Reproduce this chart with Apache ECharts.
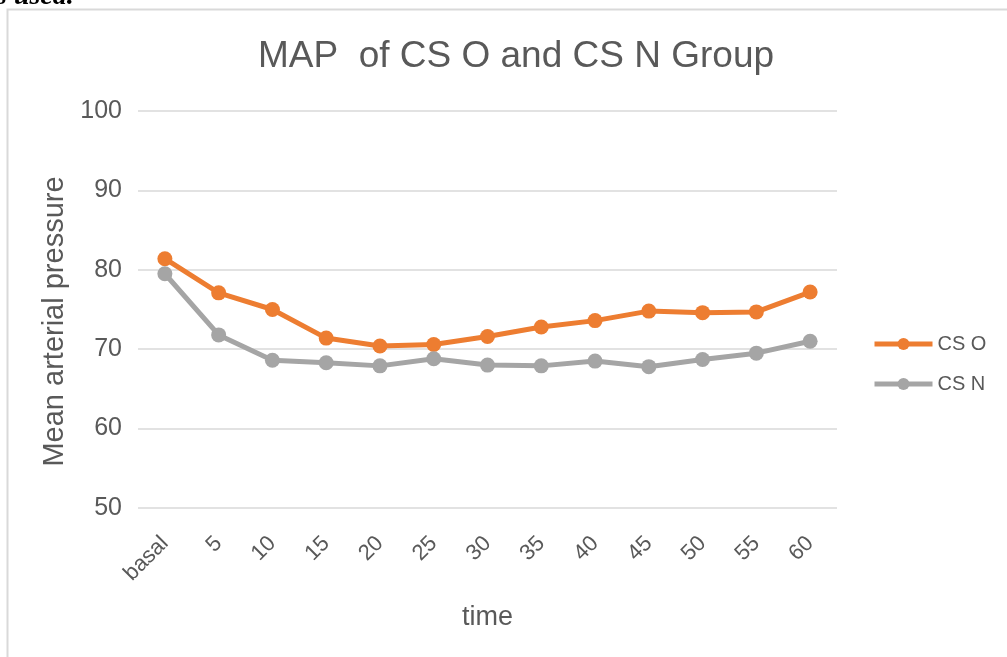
<!DOCTYPE html>
<html>
<head>
<meta charset="utf-8">
<script src="https://cdn.jsdelivr.net/npm/echarts@6/dist/echarts.min.js"></script>
<style>
html,body{margin:0;padding:0;background:#fff;}
#chart{width:1007px;height:657px;}
</style>
</head>
<body>
<div id="chart"></div>
<script>
const categories = ['basal','5','10','15','20','25','30','35','40','45','50','55','60'];
const csO = [81.4, 77.1, 75.0, 71.4, 70.4, 70.6, 71.6, 72.8, 73.6, 74.8, 74.6, 74.7, 77.2];
const csN = [79.5, 71.8, 68.6, 68.3, 67.9, 68.8, 68.0, 67.9, 68.5, 67.8, 68.7, 69.5, 71.0];
const yTicks = [50, 60, 70, 80, 90, 100];

const chart = echarts.init(document.getElementById('chart'));
const font = 'Liberation Sans, Arial, sans-serif';
chart.setOption({
  animation: false,
  backgroundColor: '#fff',
  graphic: [
    {type:'rect', shape:{x:7.5,y:9.5,width:1010,height:660}, style:{fill:'none', stroke:'#d9d9d9', lineWidth:2}},
    {type:'text', left:-4, top:-17, style:{text:'s used.', font:'italic bold 28px "Liberation Serif", serif', fill:'#000'}}
  ],
  title: {
    text: 'MAP  of CS O and CS N Group',
    left: 511, top: 33, textAlign: 'center',
    textStyle: {fontFamily: font, fontSize: 37, fontWeight: 'normal', color: '#595959'}
  },
  legend: {
    orient: 'vertical', left: 867, top: 329, itemGap: 20,
    itemWidth: 58, itemHeight: 15,
    lineStyle: {width: 5},
    textStyle: {fontFamily: font, fontSize: 20, color: '#595959'},
    data: ['CS O', 'CS N']
  },
  grid: {left: 138, right: 170, top: 111, bottom: 149},
  xAxis: {
    type: 'category', data: categories, boundaryGap: true,
    name: 'time', nameLocation: 'middle', nameGap: 96,
    nameTextStyle: {fontFamily: font, fontSize: 27, color: '#595959'},
    axisLine: {show: false}, axisTick: {show: false},
    axisLabel: {rotate: 45, fontFamily: font, fontSize: 22, color: '#595959', margin: 32, interval: 0}
  },
  yAxis: {
    type: 'value', min: yTicks[0], max: yTicks[yTicks.length-1], interval: 10,
    name: 'Mean arterial pressure', nameLocation: 'middle', nameGap: 60,
    nameTextStyle: {fontFamily: font, fontSize: 29, color: '#595959', padding: [0, 24, 0, 0]},
    axisLine: {show: false}, axisTick: {show: false},
    axisLabel: {fontFamily: font, fontSize: 25, color: '#595959', margin: 16},
    splitLine: {lineStyle: {color: '#d9d9d9', width: 1.5}}
  },
  series: [
    {name: 'CS O', type: 'line', data: csO, symbol: 'circle', symbolSize: 15,
     lineStyle: {color: '#ed7d31', width: 5}, itemStyle: {color: '#ed7d31'}},
    {name: 'CS N', type: 'line', data: csN, symbol: 'circle', symbolSize: 15,
     lineStyle: {color: '#a5a5a5', width: 5}, itemStyle: {color: '#a5a5a5'}}
  ]
});
</script>
</body>
</html>
